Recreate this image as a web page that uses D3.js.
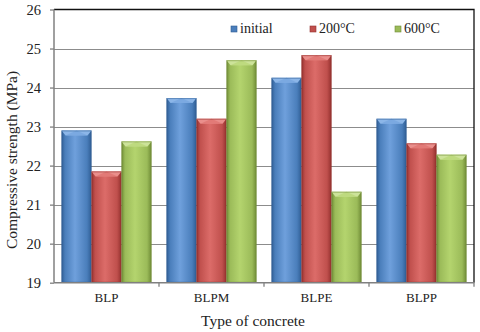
<!DOCTYPE html>
<html>
<head>
<meta charset="utf-8">
<script src="https://cdn.jsdelivr.net/npm/d3@7"></script>
<style>
  body { margin: 0; background: #fff; }
</style>
</head>
<body>
<svg width="480" height="332"></svg>
<script>
// Data
var categories = ["BLP", "BLPM", "BLPE", "BLPP"];
var seriesNames = ["initial", "200\u00B0C", "600\u00B0C"];
var initial = [22.9, 23.73, 24.25, 23.2];
var t200 = [21.85, 23.2, 24.83, 22.57];
var t600 = [22.62, 24.7, 21.33, 22.28];
var yTicks = [19, 20, 21, 22, 23, 24, 25, 26];

var series = [initial, t200, t600];
var colors = [
    { base: "#4a7ebb", light: "#6fa0dc", dark: "#2f5d93", cap: "#8cb6e8" },
    { base: "#c0504d", light: "#dc6c69", dark: "#93302e", cap: "#ea8f8c" },
    { base: "#9bbb59", light: "#b4d46e", dark: "#6f8b36", cap: "#cde39a" }
];
var FONT = "Liberation Serif";

var svg = d3.select("svg"),
    width = +svg.attr("width"),
    height = +svg.attr("height");

var margin = { top: 9.5, right: 6, bottom: 50, left: 54 };
var x0 = margin.left, x1 = width - margin.right;
var yTop = margin.top, yBot = height - margin.bottom + 0.7;

// Scales
var x = d3.scaleBand()
    .domain(categories)
    .range([x0, x1])
    .paddingInner(0)
    .paddingOuter(0);

var xs = d3.scaleBand()
    .domain(d3.range(series.length))
    .range([0, x.bandwidth()])
    .paddingOuter(0.25)
    .paddingInner(0);

var y = d3.scaleLinear()
    .domain([19, 26])
    .range([yBot, yTop]);

// Gradients
var defs = svg.append("defs");
colors.forEach(function(c, i) {
    var g = defs.append("linearGradient")
        .attr("id", "grad" + i)
        .attr("x1", "0").attr("x2", "1").attr("y1", "0").attr("y2", "0");
    g.append("stop").attr("offset", "0%").attr("stop-color", c.dark);
    g.append("stop").attr("offset", "12%").attr("stop-color", c.base);
    g.append("stop").attr("offset", "45%").attr("stop-color", c.light);
    g.append("stop").attr("offset", "85%").attr("stop-color", c.base);
    g.append("stop").attr("offset", "100%").attr("stop-color", c.dark);
});

// Gridlines
svg.append("g")
    .selectAll("line")
    .data(yTicks.slice(1, -1))
    .enter().append("line")
    .attr("x1", x0).attr("x2", x1)
    .attr("y1", function(d) { return Math.round(y(d)) + 0.5; })
    .attr("y2", function(d) { return Math.round(y(d)) + 0.5; })
    .attr("stroke", "#8c8c8c")
    .attr("stroke-width", 1.2);

// Bars
var groups = svg.append("g")
    .selectAll("g")
    .data(categories)
    .enter().append("g")
    .attr("transform", function(d) { return "translate(" + x(d) + ",0)"; });

groups.selectAll("g.bar")
    .data(function(d, ci) { return series.map(function(s, si) { return { si: si, v: s[ci] }; }); })
    .enter().append("g")
    .attr("class", "bar")
    .each(function(d) {
        var g = d3.select(this);
        var bx = xs(d.si), bw = xs.bandwidth();
        var top = y(d.v), bot = y(19);
        var c = colors[d.si];
        var cap = 5;
        g.append("rect")
            .attr("x", bx).attr("y", top)
            .attr("width", bw).attr("height", bot - top)
            .attr("fill", "url(#grad" + d.si + ")");
        // beveled top
        g.append("path")
            .attr("d", "M" + bx + "," + top + "L" + (bx + bw) + "," + top +
                "L" + (bx + bw - 4) + "," + (top + cap) + "L" + (bx + 4) + "," + (top + cap) + "Z")
            .attr("fill", c.cap);
        g.append("path")
            .attr("d", "M" + (bx + 4) + "," + (top + cap) + "L" + (bx + bw / 2) + "," + top +
                "L" + (bx + bw - 4) + "," + (top + cap) + "Z")
            .attr("fill", c.light)
            .attr("opacity", 0.6);
        g.append("rect")
            .attr("x", bx + 0.5).attr("y", top + 0.5)
            .attr("width", bw - 1).attr("height", bot - top - 1)
            .attr("fill", "none")
            .attr("stroke", c.dark)
            .attr("stroke-opacity", 0.5)
            .attr("stroke-width", 1);
    });

// Plot border (top and right)
svg.append("path")
    .attr("d", "M" + x0 + "," + (yTop) + "H" + x1 + "V" + yBot)
    .attr("fill", "none")
    .attr("stroke", "#111")
    .attr("stroke-width", 1.3);

// Axes
var yAxis = d3.axisLeft(y).tickValues(yTicks).tickSize(5).tickPadding(8).tickFormat(d3.format("d"));
var gy = svg.append("g")
    .attr("transform", "translate(" + x0 + ",0)")
    .call(yAxis)
    .attr("font-family", FONT)
    .attr("font-size", 14.5);
gy.select(".domain").attr("d", "M0," + yTop + "V" + yBot).attr("stroke", "#808080").attr("stroke-width", 1.5);
gy.selectAll(".tick line").attr("x1", -4).attr("x2", 0).attr("stroke", "#808080").attr("stroke-width", 1.3);
gy.selectAll(".tick text").attr("fill", "#222");

var xAxis = d3.axisBottom(x).tickSize(0).tickPadding(10);
var gx = svg.append("g")
    .attr("transform", "translate(0," + yBot + ")")
    .call(xAxis)
    .attr("font-family", FONT)
    .attr("font-size", 13);
gx.select(".domain").attr("d", "M" + x0 + ",0H" + x1).attr("stroke", "#808080").attr("stroke-width", 1.5);
gx.selectAll(".tick text").attr("fill", "#222");

// category separators
svg.append("g")
    .selectAll("line")
    .data(categories.slice(1).concat(["end"]))
    .enter().append("line")
    .attr("x1", function(d) { return d === "end" ? x1 : x(d); })
    .attr("x2", function(d) { return d === "end" ? x1 : x(d); })
    .attr("y1", yBot).attr("y2", yBot + 4)
    .attr("stroke", "#808080")
    .attr("stroke-width", 1.3);

// Axis titles
svg.append("text")
    .attr("transform", "translate(17,160) rotate(-90)")
    .attr("text-anchor", "middle")
    .attr("font-family", FONT)
    .attr("font-size", 15.5)
    .attr("fill", "#222")
    .text("Compressive strength (MPa)");

svg.append("text")
    .attr("x", 253)
    .attr("y", 326)
    .attr("text-anchor", "middle")
    .attr("font-family", FONT)
    .attr("font-size", 15.5)
    .attr("fill", "#222")
    .text("Type of concrete");

// Legend
var legendX = [231, 310, 395];
var legend = svg.append("g")
    .selectAll("g")
    .data(seriesNames)
    .enter().append("g")
    .attr("transform", function(d, i) { return "translate(" + legendX[i] + ",26)"; });
legend.append("rect")
    .attr("width", 6).attr("height", 6)
    .attr("fill", function(d, i) { return colors[i].base; })
    .attr("stroke", function(d, i) { return colors[i].dark; })
    .attr("stroke-width", 0.6);
legend.append("text")
    .attr("x", 9).attr("y", 7.3)
    .attr("font-family", FONT)
    .attr("font-size", 14)
    .attr("fill", "#222")
    .text(function(d) { return d; });
</script>
</body>
</html>
